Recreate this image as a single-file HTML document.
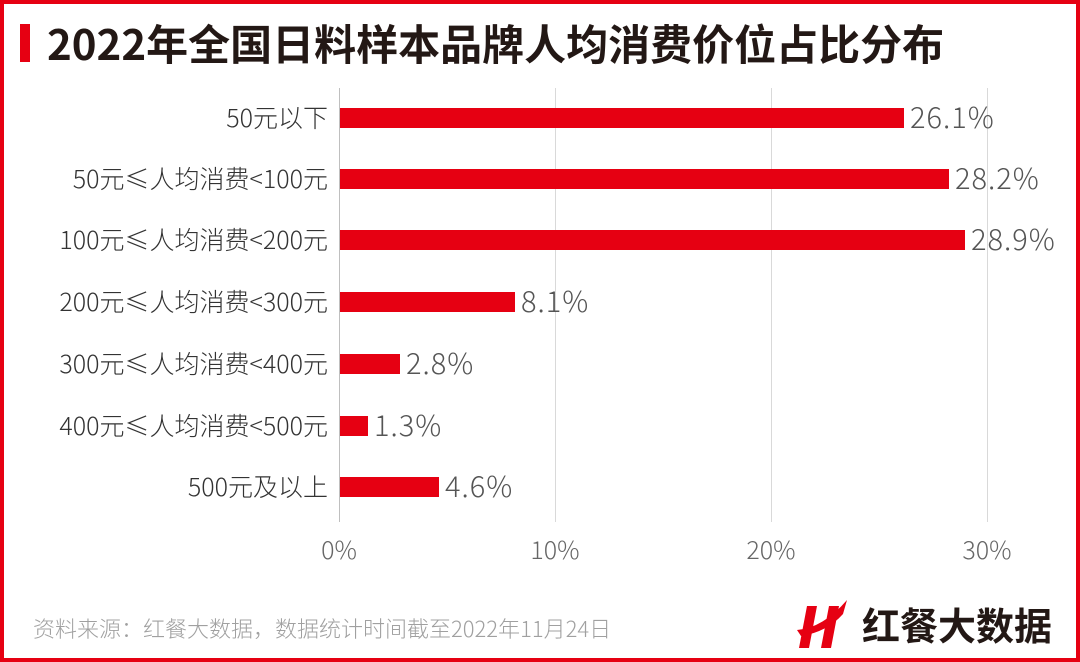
<!DOCTYPE html>
<html><head><meta charset="utf-8"><style>
body{margin:0;width:1080px;height:662px;overflow:hidden;background:#fff;font-family:"Noto Sans CJK SC",sans-serif;}
.frame{position:absolute;left:0;top:0;width:1072px;height:654px;border:4px solid #e60012;}
.t{position:absolute;white-space:nowrap;}
</style></head><body>
<div class="frame"></div>
<div class="t" style="left:20px;top:24px;width:10px;height:38px;background:#e60012"></div>
<div class="t" style="left:47px;top:13px;font-size:42px;font-weight:bold;color:#231815;line-height:60px;">2022年全国日料样本品牌人均消费价位占比分布</div>
<svg width="1080" height="662" style="position:absolute;left:0;top:0" font-family="Noto Sans CJK SC, sans-serif">
<g stroke="#d9d9d9" stroke-width="1">
<line x1="555.5" y1="88" x2="555.5" y2="522"/>
<line x1="771.5" y1="88" x2="771.5" y2="522"/>
<line x1="987.5" y1="88" x2="987.5" y2="522"/>
<line x1="339.5" y1="88" x2="339.5" y2="522" stroke="#bfbfbf"/>
</g>
<g fill="#e60012">
<rect x="340" y="108" width="564" height="20"/>
<rect x="340" y="169" width="609" height="20"/>
<rect x="340" y="230" width="625" height="20"/>
<rect x="340" y="292" width="175" height="20"/>
<rect x="340" y="354" width="60" height="20"/>
<rect x="340" y="416" width="28" height="20"/>
<rect x="340" y="477" width="99" height="20"/>
</g>
<g font-size="25" fill="#333" text-anchor="end" font-weight="300">
<text x="328" y="127">50元以下</text>
<text x="328" y="188">50元≤人均消费&lt;100元</text>
<text x="328" y="249">100元≤人均消费&lt;200元</text>
<text x="328" y="311">200元≤人均消费&lt;300元</text>
<text x="328" y="373">300元≤人均消费&lt;400元</text>
<text x="328" y="435">400元≤人均消费&lt;500元</text>
<text x="328" y="496">500元及以上</text>
</g>
<g font-size="29" fill="#555" font-weight="300" letter-spacing="1">
<text x="910" y="128">26.1%</text>
<text x="955" y="189">28.2%</text>
<text x="971" y="250">28.9%</text>
<text x="521" y="312">8.1%</text>
<text x="406" y="374">2.8%</text>
<text x="374" y="436">1.3%</text>
<text x="445" y="497">4.6%</text>
</g>
<g font-size="25" fill="#666" text-anchor="middle" font-weight="300">
<text x="339" y="559">0%</text>
<text x="555" y="559">10%</text>
<text x="771" y="559">20%</text>
<text x="987" y="559">30%</text>
</g>
<text x="33" y="637" font-size="22" fill="#a0a0a0" font-weight="300">资料来源：红餐大数据，数据统计时间截至2022年11月24日</text>
<g transform="translate(795,600)">
<path d="M12 6 L22 6 L14 48 L4 48 Z M34 6 L44 6 L36 48 L26 48 Z" fill="#e60012"/>
<path d="M2 30 Q28 28 52 0 L48 14 Q32 32 6 36 Z" fill="#e60012"/>
</g>
<text x="862" y="640" font-size="38" font-weight="bold" fill="#231815">红餐大数据</text>
</svg>
</body></html>
